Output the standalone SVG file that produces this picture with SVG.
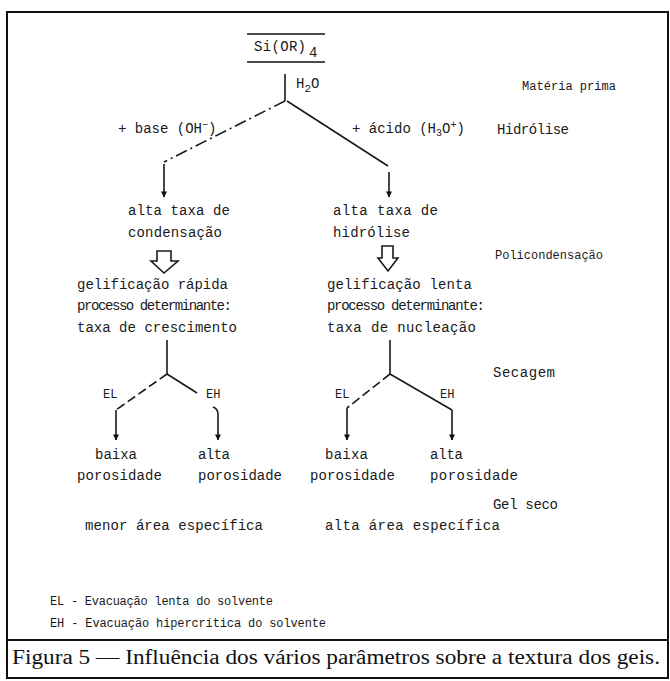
<svg xmlns="http://www.w3.org/2000/svg" width="670" height="681" viewBox="0 0 670 681">
<defs>
<marker id="ah" viewBox="0 0 10 10" refX="9" refY="5" markerWidth="8" markerHeight="6" orient="auto" markerUnits="userSpaceOnUse">
<path d="M0,0 L10,5 L0,10 Z" fill="#111"/>
</marker>
<style>
.t{font-family:"Liberation Mono","DejaVu Sans Mono",monospace;font-size:14px;fill:#1a1a1a}
.s{font-size:12px}
.ln{stroke:#1a1a1a;stroke-width:1.6;fill:none}
.dd{stroke-dasharray:12 4 2 4}
.da{stroke-dasharray:9 4}
.ar{marker-end:url(#ah)}
.cap{font-family:"Liberation Serif","Times New Roman",serif;font-size:20px;fill:#111}
</style>
</defs>
<rect width="670" height="681" fill="#fff"/>
<g id="frame" fill="none" stroke="#111" stroke-width="2">
<rect x="7" y="12" width="661" height="666"/>
<line x1="7" y1="640" x2="668" y2="640"/>
</g>

<g id="connectors">
<line class="ln" x1="285" y1="74" x2="285" y2="101"/>
<line class="ln dd" x1="285" y1="101" x2="164" y2="162"/>
<line class="ln ar" x1="164" y1="164" x2="164" y2="197"/>
<line class="ln" x1="287" y1="101" x2="388" y2="166"/>
<line class="ln ar" x1="389" y1="172" x2="389" y2="197"/>
<path class="ln" d="M157,261 L157,251 L171,251 L171,261 L178,261 L164,273 L151,261 Z"/>
<path class="ln" d="M382,258 L382,246 L393,246 L393,258 L398,258 L388,271 L378,258 Z"/>
<line class="ln" x1="167" y1="340" x2="167" y2="374"/>
<line class="ln da" x1="167" y1="374" x2="116" y2="410"/>
<line class="ln ar" x1="116" y1="410" x2="116" y2="440"/>
<line class="ln" x1="167" y1="374" x2="197" y2="393"/>
<path class="ln ar" d="M213,407 Q218,409 218,414 L218,440"/>
<line class="ln" x1="390" y1="340" x2="390" y2="374"/>
<line class="ln da" x1="390" y1="374" x2="347" y2="408"/>
<line class="ln ar" x1="347" y1="408" x2="347" y2="440"/>
<line class="ln" x1="390" y1="374" x2="452" y2="410"/>
<line class="ln ar" x1="452" y1="410" x2="452" y2="440"/>
</g>

<g id="n-sior4">
<line x1="247" y1="34" x2="325" y2="34" stroke="#111" stroke-width="1.5"/>
<text class="t" x="254" y="51" textLength="52">Si(OR)</text>
<text class="t" x="309" y="57" font-size="12">4</text>
<line x1="247" y1="62" x2="325" y2="62" stroke="#111" stroke-width="1.5"/>
</g>
<g id="n-h2o"><text class="t" x="296" y="88">H<tspan dy="4" font-size="11">2</tspan><tspan dy="-4">O</tspan></text></g>
<g id="n-base"><text class="t" x="118" y="133">+ base (OH<tspan dy="-5" font-size="10">−</tspan><tspan dy="5">)</tspan></text></g>
<g id="n-acido"><text class="t" x="352" y="133">+ ácido (H<tspan dy="3" font-size="10">3</tspan><tspan dy="-3">O</tspan><tspan dy="-5" font-size="10">+</tspan><tspan dy="5">)</tspan></text></g>

<g id="lbl-materia"><text class="t s" x="522" y="90" textLength="94">Matéria prima</text></g>
<g id="lbl-hidrolise"><text class="t" x="497" y="134" textLength="72" font-size="13">Hidrólise</text></g>
<g id="lbl-policond"><text class="t s" x="495" y="259" textLength="108">Policondensação</text></g>
<g id="lbl-secagem"><text class="t" x="493" y="377" textLength="62">Secagem</text></g>
<g id="lbl-gelseco"><text class="t" x="493" y="509" textLength="65">Gel seco</text></g>

<g id="n-cond">
<text class="t" x="128" y="215" textLength="102">alta taxa de</text>
<text class="t" x="128" y="237" textLength="94">condensação</text>
</g>
<g id="n-hidr">
<text class="t" x="333" y="215" textLength="105">alta taxa de</text>
<text class="t" x="333" y="237" textLength="77">hidrólise</text>
</g>
<g id="n-gel-rapida">
<text class="t" x="77" y="289" textLength="151">gelificação rápida</text>
<text class="t" x="77" y="310" textLength="155">processo determinante:</text>
<text class="t" x="77" y="332" textLength="160">taxa de crescimento</text>
</g>
<g id="n-gel-lenta">
<text class="t" x="327" y="289" textLength="145">gelificação lenta</text>
<text class="t" x="327" y="310" textLength="158">processo determinante:</text>
<text class="t" x="327" y="332" textLength="149">taxa de nucleação</text>
</g>

<g id="lbl-el1"><text class="t s" x="103" y="398">EL</text></g>
<g id="lbl-eh1"><text class="t s" x="206" y="398">EH</text></g>
<g id="lbl-el2"><text class="t s" x="335" y="398">EL</text></g>
<g id="lbl-eh2"><text class="t s" x="440" y="398">EH</text></g>

<g id="n-baixa1">
<text class="t" x="95" y="459" textLength="42">baixa</text>
<text class="t" x="77" y="480" textLength="85">porosidade</text>
</g>
<g id="n-alta1">
<text class="t" x="198" y="459" textLength="32">alta</text>
<text class="t" x="198" y="480" textLength="84">porosidade</text>
</g>
<g id="n-baixa2">
<text class="t" x="325" y="459" textLength="43">baixa</text>
<text class="t" x="310" y="480" textLength="85">porosidade</text>
</g>
<g id="n-alta2">
<text class="t" x="430" y="459" textLength="33">alta</text>
<text class="t" x="430" y="480" textLength="88">porosidade</text>
</g>
<g id="n-menor"><text class="t" x="85" y="530" textLength="178">menor área específica</text></g>
<g id="n-altaarea"><text class="t" x="325" y="530" textLength="175">alta área específica</text></g>

<g id="legend">
<text class="t s" x="50" y="605" textLength="223">EL - Evacuação lenta do solvente</text>
<text class="t s" x="50" y="627" textLength="276">EH - Evacuação hipercrítica do solvente</text>
</g>
<g id="caption"><text class="cap" x="12" y="664" textLength="648" lengthAdjust="spacingAndGlyphs">Figura 5 — Influência dos vários parâmetros sobre a textura dos geis.</text></g>
</svg>
